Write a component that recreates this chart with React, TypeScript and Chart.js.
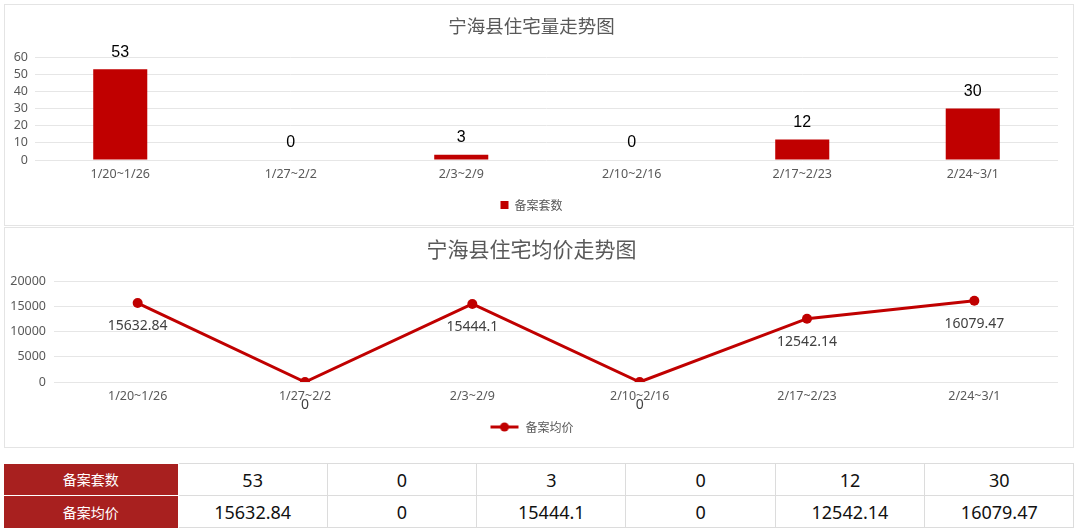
import React, { useEffect, useRef } from 'react';
import { Chart, registerables } from 'chart.js';

Chart.register(...registerables);

const categories = ['1/20~1/26', '1/27~2/2', '2/3~2/9', '2/10~2/16', '2/17~2/23', '2/24~3/1'];
const unitCounts = [53, 0, 3, 0, 12, 30];
const avgPrices = [15632.84, 0, 15444.1, 0, 12542.14, 16079.47];
const countSeriesName = '备案套数';
const priceSeriesName = '备案均价';
const countTitle = '宁海县住宅量走势图';
const priceTitle = '宁海县住宅均价走势图';
const countAxis = { min: 0, max: 60, step: 10 };
const priceAxis = { min: 0, max: 20000, step: 5000 };

const RED = '#C00000';
const CJK = '"Noto Sans CJK SC", "Noto Sans", sans-serif';
const LATIN = '"Noto Sans", "Noto Sans CJK SC", sans-serif';

const barLabelPlugin = {
  id: 'barLabels',
  afterDatasetsDraw(chart: any) {
    const ctx = chart.ctx;
    const meta = chart.getDatasetMeta(0);
    const data = chart.data.datasets[0].data;
    ctx.save();
    ctx.font = '16px "Liberation Sans", Arial, sans-serif';
    ctx.fillStyle = '#000';
    ctx.textAlign = 'center';
    ctx.textBaseline = 'middle';
    meta.data.forEach((el: any, i: number) => {
      ctx.fillText(String(data[i]), el.x, el.y - 17);
    });
    ctx.restore();
  },
};

const lineLabelPlugin = {
  id: 'lineLabels',
  afterDatasetsDraw(chart: any) {
    const ctx = chart.ctx;
    const meta = chart.getDatasetMeta(0);
    const data = chart.data.datasets[0].data;
    ctx.save();
    ctx.font = '14px "Noto Sans", sans-serif';
    ctx.fillStyle = '#404040';
    ctx.textAlign = 'center';
    ctx.textBaseline = 'middle';
    meta.data.forEach((el: any, i: number) => {
      ctx.fillText(String(data[i]), el.x, el.y + 23);
    });
    ctx.restore();
  },
};

function makeLineMarker() {
  const c = document.createElement('canvas');
  c.width = 30;
  c.height = 12;
  const g = c.getContext('2d')!;
  g.strokeStyle = RED;
  g.lineWidth = 3;
  g.beginPath();
  g.moveTo(1, 6);
  g.lineTo(29, 6);
  g.stroke();
  g.fillStyle = RED;
  g.beginPath();
  g.arc(15, 6, 4.5, 0, Math.PI * 2);
  g.fill();
  return c;
}

export default function App() {
  const barRef = useRef<HTMLCanvasElement>(null);
  const lineRef = useRef<HTMLCanvasElement>(null);

  useEffect(() => {
    const tickFont = { family: LATIN, size: 12.5 };
    const plain = (v: any) => String(v);
    const bar = new Chart(barRef.current!, {
      type: 'bar',
      data: {
        labels: categories,
        datasets: [
          {
            label: countSeriesName,
            data: unitCounts,
            backgroundColor: RED,
            borderWidth: 0,
            categoryPercentage: 1,
            barPercentage: 0.317,
          },
        ],
      },
      options: {
        animation: false,
        responsive: false,
        maintainAspectRatio: false,
        layout: { padding: { left: 0, right: 15, top: 0, bottom: 4 } },
        plugins: {
          title: {
            display: true,
            text: countTitle,
            color: '#595959',
            font: { family: CJK, size: 18.5, weight: 'normal' },
            padding: { top: 10, bottom: 20 },
          },
          legend: {
            position: 'bottom',
            labels: {
              boxWidth: 8,
              boxHeight: 8,
              color: '#595959',
              font: { family: CJK, size: 12 },
              padding: 10,
            },
          },
          tooltip: { enabled: false },
        },
        scales: {
          x: {
            grid: { display: false, drawTicks: false },
            border: { display: false },
            ticks: { color: '#595959', font: tickFont, padding: 7, autoSkip: false, maxRotation: 0 },
          },
          y: {
            min: countAxis.min,
            max: countAxis.max,
            grid: { color: '#e6e6e6', drawTicks: false },
            border: { display: false },
            ticks: {
              stepSize: countAxis.step,
              autoSkip: false,
              color: '#595959',
              font: tickFont,
              padding: 7,
              callback: plain,
            },
            afterFit(scale: any) {
              scale.width = 30;
            },
          },
        },
      },
      plugins: [barLabelPlugin],
    } as any);

    const marker = makeLineMarker();
    const line = new Chart(lineRef.current!, {
      type: 'line',
      data: {
        labels: categories,
        datasets: [
          {
            label: priceSeriesName,
            data: avgPrices,
            borderColor: RED,
            backgroundColor: RED,
            borderWidth: 3,
            pointRadius: 5,
            pointBackgroundColor: RED,
            pointBorderColor: RED,
            pointBorderWidth: 0,
            tension: 0,
          },
        ],
      },
      options: {
        animation: false,
        responsive: false,
        maintainAspectRatio: false,
        layout: { padding: { left: 0, right: 15, top: 0, bottom: 4 } },
        plugins: {
          title: {
            display: true,
            text: priceTitle,
            color: '#595959',
            font: { family: CJK, size: 21, weight: 'normal' },
            padding: { top: 8.4, bottom: 19.4 },
          },
          legend: {
            position: 'bottom',
            labels: {
              usePointStyle: true,
              pointStyle: marker,
              pointStyleWidth: 30,
              color: '#595959',
              font: { family: CJK, size: 12 },
              padding: 10,
            },
          },
          tooltip: { enabled: false },
        },
        scales: {
          x: {
            offset: true,
            grid: { display: false, drawTicks: false },
            border: { display: false },
            ticks: { color: '#595959', font: tickFont, padding: 7, autoSkip: false, maxRotation: 0 },
          },
          y: {
            min: priceAxis.min,
            max: priceAxis.max,
            grid: { color: '#e6e6e6', drawTicks: false },
            border: { display: false },
            ticks: {
              stepSize: priceAxis.step,
              autoSkip: false,
              color: '#595959',
              font: tickFont,
              padding: 8,
              callback: plain,
            },
            afterFit(scale: any) {
              scale.width = 49;
            },
          },
        },
      },
      plugins: [lineLabelPlugin],
    } as any);

    return () => {
      bar.destroy();
      line.destroy();
    };
  }, []);

  const panel: React.CSSProperties = {
    position: 'absolute',
    left: 4,
    width: 1070,
    boxSizing: 'border-box',
    border: '1px solid #e4e4e4',
    background: '#fff',
  };
  const headCell: React.CSSProperties = {
    background: '#A8201F',
    color: '#fff',
    fontSize: 14,
    textAlign: 'center',
    border: '1px solid #ffffff',
    borderLeft: 'none',
    padding: 0,
    fontFamily: CJK,
  };
  const dataCell: React.CSSProperties = {
    color: '#111',
    fontSize: 18,
    textAlign: 'center',
    border: '1px solid #dcdcdc',
    padding: 0,
    fontFamily: LATIN,
  };

  return (
    <div style={{ position: 'fixed', left: 0, top: 0, width: 1078, height: 532, background: '#fff', overflow: 'hidden' }}>
      <div style={{ ...panel, top: 4, height: 222 }}>
        <canvas ref={barRef} width={1068} height={220} style={{ display: 'block', width: 1068, height: 220 }} />
      </div>
      <div style={{ ...panel, top: 227, height: 221 }}>
        <canvas ref={lineRef} width={1068} height={219} style={{ display: 'block', width: 1068, height: 219 }} />
      </div>
      <table
        style={{
          position: 'absolute',
          left: 4,
          top: 463,
          width: 1070,
          borderCollapse: 'collapse',
          tableLayout: 'fixed',
        }}
      >
        <colgroup>
          <col style={{ width: 174 }} />
          {categories.map((c) => (
            <col key={c} style={{ width: 149.33 }} />
          ))}
        </colgroup>
        <tbody>
          <tr style={{ height: 32 }}>
            <td style={{ ...headCell, borderTop: 'none' }}>{countSeriesName}</td>
            {unitCounts.map((v, i) => (
              <td key={i} style={dataCell}>{String(v)}</td>
            ))}
          </tr>
          <tr style={{ height: 32 }}>
            <td style={{ ...headCell, borderBottom: 'none' }}>{priceSeriesName}</td>
            {avgPrices.map((v, i) => (
              <td key={i} style={dataCell}>{String(v)}</td>
            ))}
          </tr>
        </tbody>
      </table>
    </div>
  );
}
